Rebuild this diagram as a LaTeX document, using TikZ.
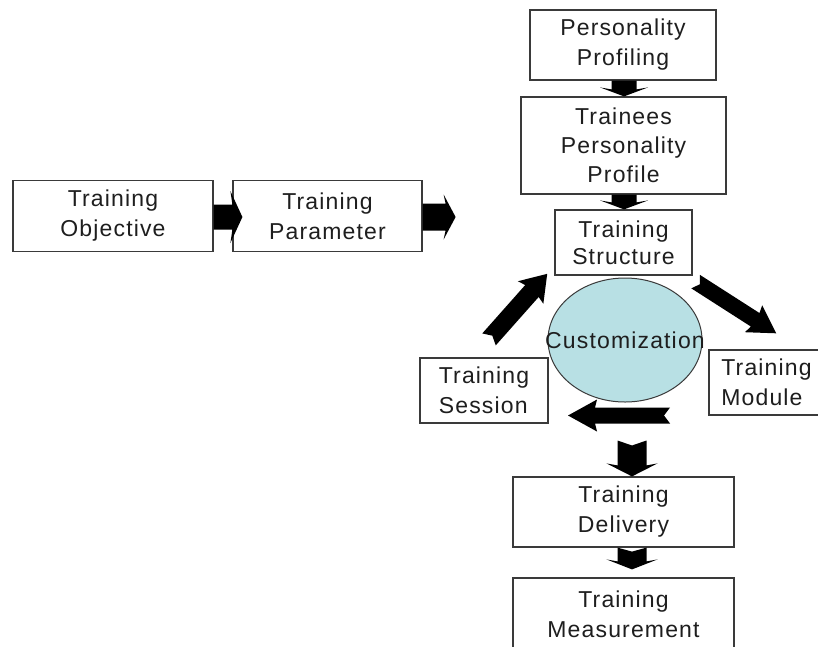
\documentclass[tikz,border=0pt]{standalone}
\usepackage{fontspec}
\setmainfont{Liberation Sans}[LetterSpace=5]
\usetikzlibrary{calc,shapes.geometric}
\definecolor{boxcol}{HTML}{3A3A3A}
\definecolor{txtcol}{HTML}{1E1E1E}
\definecolor{ellcol}{HTML}{B8E0E4}
\newcommand\blockarr[6]{% start, end, shaft half width, head half width, head length, notch
  \path let \p1=($(#2)-(#1)$), \n1={atan2(\y1,\x1)}, \n2={veclen(\x1,\y1)} in
    \pgfextra{\xdef\barang{\n1}\xdef\barlen{\n2}};
  \fill[black, shift={(#1)}, rotate=\barang]
    (0,-#3) -- ({\barlen-#5},-#3) -- ({\barlen-#5-2},-#4) -- (\barlen,0)
    -- ({\barlen-#5-2},#4) -- ({\barlen-#5},#3) -- (0,#3) -- (#6,0) -- cycle;
}
\begin{document}
\begin{tikzpicture}[x=1pt,y=-1pt,
  box/.style={draw=boxcol, line width=1.2pt, rectangle, inner sep=0pt, align=center,
    font=\fontsize{23}{30}\selectfont, text=txtcol},
  ellbox/.style={draw=boxcol, line width=1pt, ellipse, fill=ellcol, inner sep=0pt}]
\useasboundingbox (0,0) rectangle (818,646);
\fill[white] (0,0) rectangle (818,646);

\node[box, minimum width=200pt, minimum height=71pt] (obj) at (113,216) {Training\\Objective};
\node[box, minimum width=189pt, minimum height=71pt] (par) at (327.5,216) {Training\\Parameter};
\node[box, minimum width=186pt, minimum height=70pt] (pp) at (623,45) {Personality\\Profiling};
\node[box, minimum width=205pt, minimum height=97pt, font=\fontsize{23}{29}\selectfont] (tpp) at (623.5,145.5) {Trainees\\Personality\\Profile};
\node[box, minimum width=137pt, minimum height=65pt, font=\fontsize{23}{27}\selectfont] (ts) at (623.5,242.5) {Training\\Structure};
\node[ellbox, minimum width=154pt, minimum height=124pt,
  label={[font=\fontsize{23}{27}\selectfont, text=txtcol]center:Customization}] (ell) at (625,340) {};
\node[box, minimum width=128pt, minimum height=65pt, align=left] (ses) at (484,390.5) {Training\\Session};
\node[box, minimum width=115pt, minimum height=65pt, align=left] (mod) at (766.5,382.5) {Training\\Module};
\node[box, minimum width=221pt, minimum height=70pt] (del) at (623.5,512) {Training\\Delivery};
\node[box, minimum width=221pt, minimum height=72pt] (mea) at (623.5,614) {Training\\Measurement};

\coordinate (a1s) at ([shift={(0,1)}]obj.east);
\coordinate (a1e) at ([shift={(10,1)}]par.west);
\coordinate (a2s) at ([shift={(0,1)}]par.east);
\coordinate (a2e) at ([shift={(33,1)}]par.east);
\coordinate (a3s) at ([shift={(1,0)}]pp.south);
\coordinate (a3e) at ([shift={(0.5,0)}]tpp.north);
\coordinate (a4s) at ([shift={(0.5,0)}]tpp.south);
\coordinate (a4e) at ([shift={(0.5,0)}]ts.north);
\coordinate (a5s) at ([shift={(3,6)}]ts.south east);
\coordinate (a5e) at ([shift={(68,-16)}]mod.north west);
\coordinate (a6s) at ([shift={(5,-18)}]ses.north);
\coordinate (a6e) at ([shift={(-7,-2)}]ts.south west);
\coordinate (a7s) at ([shift={(45,13)}]ell.south);
\coordinate (a7e) at ([shift={(-57,13)}]ell.south);
\coordinate (a8s) at ([shift={(7,38)}]ell.south);
\coordinate (a8e) at ([shift={(8.5,0)}]del.north);
\coordinate (a9s) at ([shift={(8.5,0)}]del.south);
\coordinate (a9e) at ([shift={(8.5,-8)}]mea.north);

\blockarr{a1s}{a1e}{12.5}{26}{10}{0}
\blockarr{a2s}{a2e}{13.5}{22.5}{10}{0}
\blockarr{a3s}{a3e}{12.5}{24}{7}{0}
\blockarr{a4s}{a4e}{12.5}{24}{7}{0}
\blockarr{a5s}{a5e}{8}{16}{25}{5}
\blockarr{a6s}{a6e}{9}{17}{23}{5}
\blockarr{a7s}{a7e}{8}{16}{27}{6}
\blockarr{a8s}{a8e}{14.5}{25.5}{11}{5}
\blockarr{a9s}{a9e}{14.5}{25.5}{8}{4}
\end{tikzpicture}
\end{document}
